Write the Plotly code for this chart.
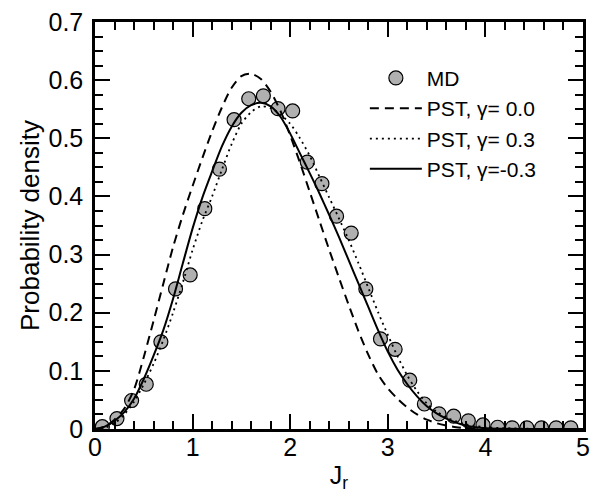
import plotly.graph_objects as go

# MD histogram points
md_x = [0.075, 0.225, 0.375, 0.525, 0.675, 0.825, 0.975, 1.125, 1.275, 1.425, 1.575,
        1.725, 1.875, 2.025, 2.175, 2.325, 2.475, 2.625, 2.775, 2.925, 3.075, 3.225,
        3.375, 3.525, 3.675, 3.825, 3.975, 4.125, 4.275, 4.425, 4.575, 4.725, 4.875]
md_y = [0.004, 0.018, 0.049, 0.077, 0.150, 0.241, 0.265, 0.379, 0.447, 0.532, 0.568,
        0.573, 0.551, 0.547, 0.459, 0.422, 0.366, 0.337, 0.241, 0.155, 0.137, 0.084,
        0.043, 0.026, 0.022, 0.014, 0.007, 0.003, 0.002, 0.002, 0.002, 0.002, 0.002]

# PST curves
jr = [0.0, 0.1, 0.2, 0.3, 0.4, 0.5, 0.6, 0.7, 0.8, 0.9, 1.0, 1.1, 1.2, 1.3, 1.4, 1.5,
      1.6, 1.7, 1.8, 1.9, 2.0, 2.1, 2.2, 2.3, 2.4, 2.5, 2.6, 2.7, 2.8, 2.9, 3.0, 3.1,
      3.2, 3.3, 3.4, 3.5, 3.6, 3.7, 3.8, 3.9, 4.0, 4.5, 5.0]
pst_g00 = [0.0, 0.004, 0.016, 0.035, 0.068, 0.124, 0.186, 0.250, 0.313, 0.368, 0.418,
           0.466, 0.512, 0.553, 0.587, 0.607, 0.611, 0.602, 0.580, 0.547, 0.505, 0.458,
           0.408, 0.358, 0.308, 0.260, 0.213, 0.168, 0.128, 0.094, 0.070, 0.052, 0.037,
           0.025, 0.016, 0.010, 0.006, 0.003, 0.0015, 0.0007, 0.0003, 0.0, 0.0]
pst_g03 = [0.0, 0.002, 0.010, 0.025, 0.047, 0.077, 0.112, 0.153, 0.200, 0.252, 0.308,
           0.358, 0.400, 0.446, 0.490, 0.525, 0.545, 0.555, 0.552, 0.541, 0.525, 0.500,
           0.470, 0.434, 0.398, 0.362, 0.325, 0.285, 0.243, 0.201, 0.162, 0.125, 0.092,
           0.065, 0.044, 0.030, 0.020, 0.013, 0.008, 0.005, 0.003, 0.0002, 0.0]
pst_gm03 = [0.0, 0.004, 0.014, 0.029, 0.052, 0.086, 0.126, 0.170, 0.224, 0.285, 0.345,
            0.398, 0.443, 0.486, 0.520, 0.544, 0.557, 0.561, 0.555, 0.537, 0.508, 0.474,
            0.440, 0.405, 0.368, 0.330, 0.290, 0.250, 0.210, 0.170, 0.133, 0.102, 0.077,
            0.056, 0.039, 0.027, 0.018, 0.011, 0.006, 0.003, 0.0015, 0.0001, 0.0]

FONT = "Liberation Sans, Arial, sans-serif"

fig = go.Figure()
fig.add_trace(go.Scatter(
    x=md_x, y=md_y, mode="markers", name="MD", legendrank=1,
    marker=dict(symbol="circle", size=14, color="#b0b0b0",
                line=dict(color="black", width=1.2)),
))
fig.add_trace(go.Scatter(
    x=jr, y=pst_g00, mode="lines", name="PST, γ= 0.0", legendrank=2,
    line=dict(color="black", width=2, dash="9px,6px", shape="spline", smoothing=0.8),
))
fig.add_trace(go.Scatter(
    x=jr, y=pst_g03, mode="lines", name="PST, γ= 0.3", legendrank=3,
    line=dict(color="black", width=1.8, dash="2px,4px", shape="spline", smoothing=0.8),
))
fig.add_trace(go.Scatter(
    x=jr, y=pst_gm03, mode="lines", name="PST, γ=-0.3", legendrank=4,
    line=dict(color="black", width=2, shape="spline", smoothing=0.8),
))

axis_common = dict(
    showline=True, linecolor="black", linewidth=2.5, mirror="ticks",
    ticks="inside", ticklen=15, tickwidth=2, tickcolor="black",
    showgrid=False, zeroline=False, automargin=False,
    tickfont=dict(family=FONT, size=25, color="black"),
)

fig.update_xaxes(
    range=[0, 5], tick0=0, dtick=1,
    minor=dict(ticks="inside", dtick=0.2, ticklen=8, tickwidth=2, tickcolor="black", showgrid=False),
    title=dict(text="J<sub>r</sub>", font=dict(family=FONT, size=25, color="black"), standoff=7),
    ticklabelstandoff=-6,
    **axis_common,
)
fig.update_yaxes(
    range=[0, 0.7], tick0=0, dtick=0.1,
    minor=dict(ticks="inside", dtick=0.025, ticklen=8, tickwidth=2, tickcolor="black", showgrid=False),
    title=dict(text="Probability density", font=dict(family=FONT, size=26, color="black"), standoff=2),
    ticklabelstandoff=4,
    **axis_common,
)

fig.update_layout(
    width=592, height=499,
    margin=dict(l=95, r=9, t=22, b=70),
    paper_bgcolor="white", plot_bgcolor="white",
    font=dict(family=FONT, color="black"),
    legend=dict(
        x=0.553, y=0.912, xanchor="left", yanchor="top",
        bgcolor="rgba(0,0,0,0)", borderwidth=0,
        font=dict(family=FONT, size=21, color="black"),
        itemwidth=52, tracegroupgap=0,
    ),
    showlegend=True,
)

fig.write_html("out.html", config={"displayModeBar": False},
               post_script="document.body.style.margin='0';")
